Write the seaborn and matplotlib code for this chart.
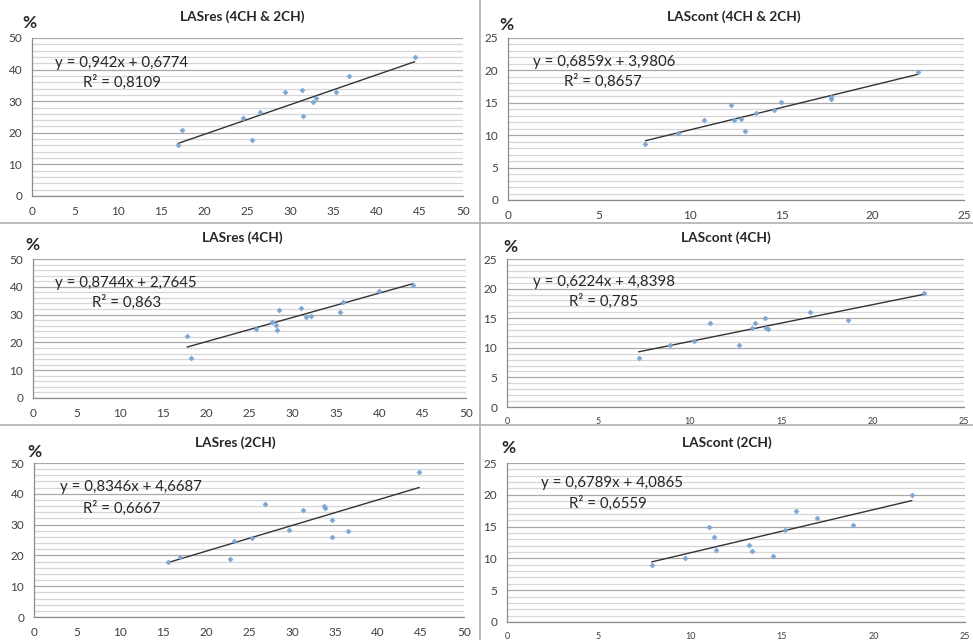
import numpy as np
import pandas as pd
import matplotlib
matplotlib.use("Agg")
import matplotlib.pyplot as plt
from matplotlib.ticker import MultipleLocator
from matplotlib.lines import Line2D
import seaborn as sns

# ---------------- data ----------------
titles = ["LASres (4CH & 2CH)", "LAScont (4CH & 2CH)",
          "LASres (4CH)", "LAScont (4CH)",
          "LASres (2CH)", "LAScont (2CH)"]

x1 = [16.9, 17.45, 24.5, 25.5, 26.5, 29.3, 31.3, 31.4, 32.6, 33.0, 35.25, 36.8, 44.4]
y1 = [16.2, 20.9, 24.8, 17.8, 26.5, 32.9, 33.6, 25.2, 29.7, 31.0, 32.9, 38.0, 43.9]

x2 = [7.53, 9.3, 10.73, 12.25, 12.38, 12.8, 13.0, 13.6, 14.6, 14.95, 17.7, 17.7, 22.5]
y2 = [8.6, 10.4, 12.3, 14.7, 12.4, 12.5, 10.7, 13.5, 13.9, 15.2, 15.9, 15.6, 19.7]

x3 = [17.8, 18.2, 25.8, 27.6, 28.1, 28.2, 28.4, 31.0, 31.5, 32.1, 35.5, 35.8, 39.9, 43.9]
y3 = [22.4, 14.4, 24.9, 27.4, 26.2, 24.4, 31.8, 32.5, 29.3, 29.5, 31.1, 34.4, 38.6, 40.8]

x4 = [7.2, 8.93, 10.25, 11.1, 12.7, 13.4, 13.57, 14.1, 14.15, 14.3, 16.6, 18.65, 22.8]
y4 = [8.2, 10.5, 11.2, 14.25, 10.4, 13.4, 14.2, 15.0, 13.35, 13.1, 16.1, 14.7, 19.3]

x5 = [15.6, 17.0, 22.75, 23.3, 25.3, 26.9, 29.6, 31.3, 33.7, 33.8, 34.7, 34.6, 36.5, 44.8]
y5 = [17.9, 19.5, 18.9, 24.8, 25.7, 36.7, 28.2, 34.6, 36.1, 35.4, 31.6, 25.9, 27.8, 47.0]

x6 = [7.9, 9.73, 11.0, 11.3, 11.4, 13.2, 13.4, 14.5, 15.2, 15.8, 16.9, 18.9, 22.1]
y6 = [8.9, 10.1, 14.9, 13.3, 11.3, 12.1, 11.1, 10.3, 14.5, 17.4, 16.4, 15.2, 20.0]

slopes = [0.942, 0.6859, 0.8744, 0.6224, 0.8346, 0.6789]
intercepts = [0.6774, 3.9806, 2.7645, 4.8398, 4.6687, 4.0865]
eq_labels = ["y = 0,942x + 0,6774", "y = 0,6859x + 3,9806",
             "y = 0,8744x + 2,7645", "y = 0,6224x + 4,8398",
             "y = 0,8346x + 4,6687", "y = 0,6789x + 4,0865"]
r2_labels = ["R² = 0,8109", "R² = 0,8657", "R² = 0,863",
             "R² = 0,785", "R² = 0,6667", "R² = 0,6559"]

xs_all = [x1, x2, x3, x4, x5, x6]
ys_all = [y1, y2, y3, y4, y5, y6]

# ---------------- layout (pixels) ----------------
W, H = 973, 640
sns.set_theme(style="white")
plt.rcParams['font.family'] = ['Lato', 'DejaVu Sans']

fig = plt.figure(figsize=(W / 100, H / 100), dpi=100)
fig.patch.set_facecolor("white")

# axes boxes: left, top, right, bottom in px
boxes = [(32, 38, 463, 196), (508, 38, 964, 200),
         (33, 259, 466, 398), (507, 259, 964, 407),
         (34, 463, 464, 617), (507, 463, 965, 622)]
title_pos = [(242, 17), (734, 17), (242, 238), (726, 238), (235, 443), (727, 443)]
pct_pos = [(22, 23), (499, 25), (25, 245), (503, 247), (27, 452), (501, 448)]
eq_pos = [(55, 63), (533, 62), (55, 283), (533, 282), (60, 487), (541, 483)]
r2_pos = [(83, 82), (564, 81), (92, 302), (569, 301), (83, 508), (569, 503)]
xtick_size = [8, 8, 8, 6, 8, 6]


def fx(x):
    return x / W


def fy(y):
    return 1 - y / H


for i in range(6):
    l, t, r, b = boxes[i]
    ax = fig.add_axes([fx(l), fy(b), (r - l) / W, (b - t) / H])
    left_col = (i % 2 == 0)
    df = pd.DataFrame({"x": xs_all[i], "y": ys_all[i]})
    sns.scatterplot(data=df, x="x", y="y", ax=ax, marker="D", s=7,
                    color="#7ba7d3", edgecolor="#7ba7d3", linewidth=0.3, zorder=3)
    xmin, xmax = min(xs_all[i]), max(xs_all[i])
    ln = pd.DataFrame({"x": [xmin, xmax],
                       "y": [slopes[i] * xmin + intercepts[i], slopes[i] * xmax + intercepts[i]]})
    sns.lineplot(data=ln, x="x", y="y", ax=ax, color="#333333", lw=1.0, zorder=2)

    if left_col:
        ax.set_xlim(0, 50)
        ax.set_ylim(0, 50)
        ax.xaxis.set_major_locator(MultipleLocator(5))
        ax.yaxis.set_major_locator(MultipleLocator(10))
        ax.yaxis.set_minor_locator(MultipleLocator(2))
    else:
        ax.set_xlim(0, 25)
        ax.set_ylim(0, 25)
        ax.xaxis.set_major_locator(MultipleLocator(5))
        ax.yaxis.set_major_locator(MultipleLocator(5))
        ax.yaxis.set_minor_locator(MultipleLocator(1))

    ax.grid(False)
    ax.grid(which="major", axis="y", color="#a8a8a8", lw=0.9, zorder=0)
    ax.grid(which="minor", axis="y", color="#d6d6d6", lw=0.9, zorder=0)
    ax.set_axisbelow(True)
    for s in ["top", "right"]:
        ax.spines[s].set_visible(False)
    for s in ["left", "bottom"]:
        ax.spines[s].set_color("#8c8c8c")
        ax.spines[s].set_linewidth(0.9)
    ax.tick_params(axis="both", which="major", direction="out", length=4,
                   width=0.8, color="#8c8c8c", labelcolor="#404040", pad=3)
    ax.tick_params(axis="y", which="minor", length=0)
    ax.tick_params(axis="y", labelsize=8.5)
    ax.tick_params(axis="x", labelsize=xtick_size[i] + 0.5)
    ax.set_xlabel("")
    ax.set_ylabel("")
    ax.set_facecolor("white")

    fig.text(fx(title_pos[i][0]), fy(title_pos[i][1]), titles[i], ha="center", va="center",
             fontsize=9.8, fontweight="bold", color="#262626")
    fig.text(fx(pct_pos[i][0]), fy(pct_pos[i][1]), "%", ha="left", va="center",
             fontsize=12.5, fontweight="bold", color="#262626")
    fig.text(fx(eq_pos[i][0]), fy(eq_pos[i][1]), eq_labels[i], ha="left", va="center",
             fontsize=10.8, color="#262626")
    fig.text(fx(r2_pos[i][0]), fy(r2_pos[i][1]), r2_labels[i], ha="left", va="center",
             fontsize=10.8, color="#262626")

# separators between the panels
sep_color = "#b0b0b0"
fig.add_artist(Line2D([fx(480), fx(480)], [0, 1], color=sep_color, lw=1.2))
fig.add_artist(Line2D([0, 1], [fy(223), fy(223)], color=sep_color, lw=1.2))
fig.add_artist(Line2D([0, 1], [fy(425), fy(425)], color=sep_color, lw=1.2))

fig.savefig("out.png", dpi=100)
